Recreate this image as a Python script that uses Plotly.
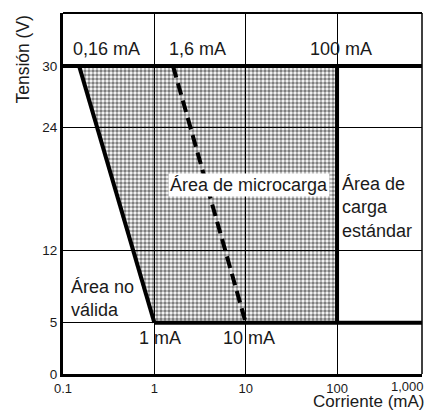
"""Voltage/current operating areas for a switch: micro-load vs standard load."""

import math

import plotly.graph_objects as go

# Operating area corners (current in mA, voltage in V)
area_current = [0.15, 1, 100, 100]
area_voltage = [30, 5, 5, 30]

# Left boundary of the micro-load area (invalid area limit)
invalid_current = [0.15, 1]
invalid_voltage = [30, 5]

# Dashed division inside the micro-load area
micro_current = [1.6, 10]
micro_voltage = [30, 5]

# Rated voltage limits and standard-load boundary
top_line_current = [0.1, 1000]
top_line_voltage = [30, 30]
bottom_line_current = [1, 1000]
bottom_line_voltage = [5, 5]
std_line_current = [100, 100]
std_line_voltage = [5, 30]

x_ticks = [0.1, 1, 10, 100]
x_tick_text = ["0.1", "1", "10", "100"]
y_ticks = [0, 5, 12, 24, 30]

FONT = "Liberation Sans, Arial, Helvetica, sans-serif"
INK = "#1a1a1a"

fig = go.Figure()

# Dotted micro-load area
fig.add_trace(go.Scatter(
    x=area_current,
    y=area_voltage,
    mode="lines",
    fill="toself",
    fillcolor="rgba(0,0,0,0)",
    fillpattern=dict(shape=".", fgcolor="black", bgcolor="rgba(0,0,0,0)",
                     size=4, solidity=0.6),
    line=dict(width=0),
    hoverinfo="skip",
    showlegend=False,
))

thick = dict(color="black", width=4)
for xs, ys in [
    (top_line_current, top_line_voltage),
    (bottom_line_current, bottom_line_voltage),
    (std_line_current, std_line_voltage),
    (invalid_current, invalid_voltage),
]:
    fig.add_trace(go.Scatter(x=xs, y=ys, mode="lines", line=thick,
                             hoverinfo="skip", showlegend=False))

fig.add_trace(go.Scatter(
    x=micro_current,
    y=micro_voltage,
    mode="lines",
    line=dict(color="black", width=4, dash="12px,6px"),
    hoverinfo="skip",
    showlegend=False,
))

lbl = dict(size=18, color=INK, family=FONT)

# Current labels along the top and bottom
for text, x in [("0,16 mA", 0.3), ("1,6 mA", 2.95), ("100 mA", 110)]:
    fig.add_annotation(x=math.log10(x), y=31.6, text=text, showarrow=False,
                       font=lbl, xanchor="center", yanchor="middle")
fig.add_annotation(x=0, y=3.5, text="1 mA", showarrow=False, font=lbl,
                   xanchor="center", yanchor="middle", xshift=6)
fig.add_annotation(x=1, y=3.5, text="10 mA", showarrow=False, font=lbl,
                   xanchor="center", yanchor="middle", xshift=3)

# Area names
fig.add_annotation(x=1, y=18.4, text="Área de microcarga", showarrow=False,
                   font=lbl, bgcolor="white", borderpad=1,
                   xanchor="center", yanchor="middle", xshift=3)
fig.add_annotation(x=2, y=16.2, text="Área de<br>carga<br>estándar",
                   showarrow=False, font=lbl, align="left",
                   xanchor="left", yanchor="middle", xshift=3)
fig.add_annotation(x=-1, y=7.4, text="Área no<br>válida", showarrow=False,
                   font=lbl, align="left", xanchor="left", yanchor="middle",
                   xshift=6)

# Axis titles and the 1,000 tick label at the right edge
fig.add_annotation(xref="paper", yref="paper", x=1, y=0, text="1,000",
                   showarrow=False, borderpad=0,
                   font=dict(size=13, color=INK, family=FONT),
                   xanchor="right", yanchor="top", yshift=-4, xshift=3)
fig.add_annotation(xref="paper", yref="paper", x=1, y=0,
                   text="Corriente (mA)", showarrow=False, borderpad=0,
                   font=dict(size=17, color=INK, family=FONT),
                   xanchor="right", yanchor="top", xshift=3, yshift=-17)
fig.add_annotation(xref="paper", yref="paper", x=-0.114, y=1,
                   text="Tensión (V)", textangle=-90, showarrow=False,
                   font=dict(size=17.5, color=INK, family=FONT),
                   xanchor="center", yanchor="top")

# Thin frame on top and right
fig.add_shape(type="line", xref="paper", yref="paper", x0=0, x1=1, y0=1, y1=1,
              line=dict(color="black", width=1.8))
fig.add_shape(type="line", xref="paper", yref="paper", x0=1, x1=1, y0=0, y1=1,
              line=dict(color="black", width=1.5))

fig.update_layout(
    width=425,
    height=411,
    margin=dict(l=63, r=3, t=13, b=37),
    plot_bgcolor="white",
    paper_bgcolor="white",
    font=dict(family=FONT, color=INK),
    showlegend=False,
    xaxis=dict(
        type="log",
        range=[-1, 2.93],
        tickvals=x_ticks,
        ticktext=x_tick_text,
        tickfont=dict(size=13, color=INK),
        showgrid=True,
        gridcolor="black",
        gridwidth=1.2,
        showline=True,
        linecolor="black",
        linewidth=3,
        ticks="",
        zeroline=False,
    ),
    yaxis=dict(
        range=[0, 35.15],
        tickvals=y_ticks,
        tickfont=dict(size=13.5, color=INK),
        showgrid=True,
        gridcolor="black",
        gridwidth=1.2,
        showline=True,
        linecolor="black",
        linewidth=3,
        ticks="",
        zeroline=False,
    ),
)

fig.write_html("out.html", config={"displayModeBar": False},
               post_script="document.body.style.margin='0';")
